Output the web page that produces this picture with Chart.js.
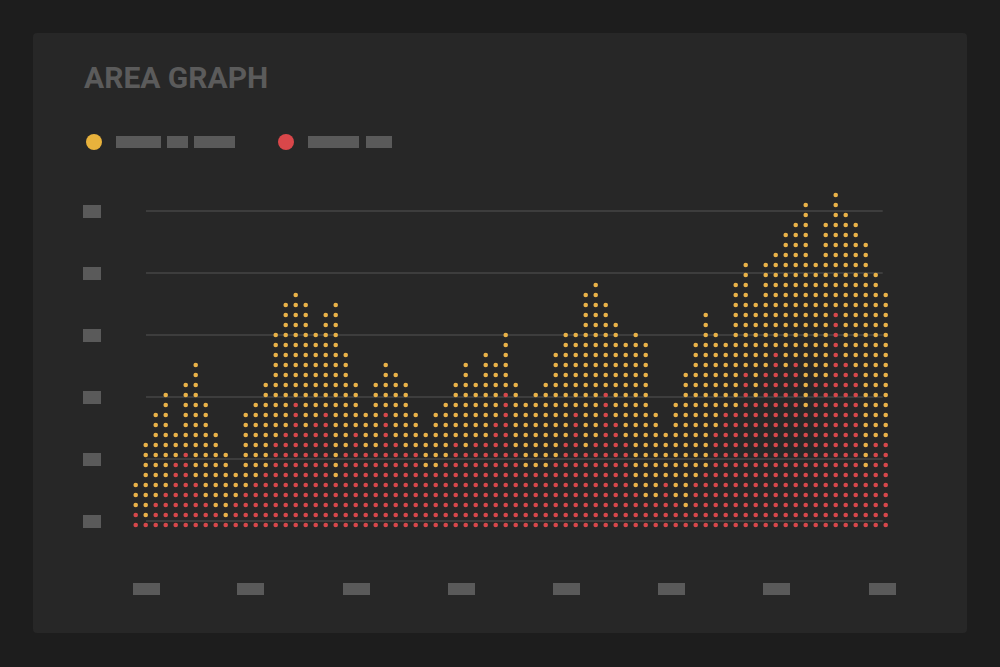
<!DOCTYPE html>
<html>
<head>
<meta charset="utf-8">
<script src="https://cdn.jsdelivr.net/npm/chart.js@4"></script>
<style>
  html, body { margin: 0; padding: 0; width: 1000px; height: 667px; overflow: hidden; background: #1d1d1d; font-family: Roboto, "DejaVu Sans", sans-serif; }
  .panel { position: absolute; left: 33px; top: 33px; width: 934px; height: 600px; background: #272727; border-radius: 4px; }
  .title { position: absolute; left: 84px; top: 63px; font-size: 30px; line-height: 30px; font-weight: 700; color: #5b5b5b; white-space: nowrap; }
  .dot { position: absolute; width: 16px; height: 16px; border-radius: 50%; top: 134px; }
  .bar { position: absolute; height: 12px; top: 136px; background: #5a5a5a; }
  #chart { position: absolute; left: 0; top: 0; }
</style>
</head>
<body>
<div class="panel"></div>
<div class="title">AREA GRAPH</div>
<div class="dot" style="left:86px;background:#e8b23c"></div>
<div class="bar" style="left:116px;width:45px"></div>
<div class="bar" style="left:167px;width:21px"></div>
<div class="bar" style="left:194px;width:41px"></div>
<div class="dot" style="left:278px;background:#d9474a"></div>
<div class="bar" style="left:308px;width:51px"></div>
<div class="bar" style="left:366px;width:26px"></div>
<canvas id="chart" width="1000" height="667"></canvas>
<script>
// dots per column (yellow tops) and red part from the bottom
const totals = [5, 9, 12, 14, 10, 15, 17, 13, 10, 8,
  6, 12, 13, 15, 20, 23, 24, 23, 20, 22,
  23, 18, 15, 12, 15, 17, 16, 15, 12, 10,
  12, 13, 15, 17, 15, 18, 17, 20, 15, 13,
  14, 15, 18, 20, 20, 24, 25, 23, 21, 19,
  20, 19, 12, 10, 13, 16, 19, 22, 20, 19,
  25, 27, 23, 27, 28, 30, 31, 33, 27, 31,
  34, 32, 31, 29, 26, 24];
const reds = [2, 1, 3, 4, 7, 8, 5, 3, 2, 1,
  3, 4, 5, 6, 9, 10, 13, 10, 11, 12,
  5, 8, 10, 8, 8, 12, 9, 8, 8, 6,
  6, 7, 9, 8, 9, 9, 11, 14, 8, 6,
  6, 6, 7, 9, 12, 8, 9, 14, 11, 9,
  4, 3, 3, 5, 3, 2, 5, 6, 10, 12,
  12, 16, 13, 16, 18, 16, 17, 12, 15, 15,
  22, 17, 16, 6, 9, 9];
const yTicks = [0.4, 6.6, 12.8, 19, 25.2, 31.4];
const xTicks = [1.03, 11.5, 22.1, 32.6, 43.1, 53.6, 64.1, 74.7];

const redPts = [];
const yellowPts = [];
totals.forEach((t, i) => {
  for (let k = 0; k < t; k++) {
    if (k < reds[i]) redPts.push({ x: i, y: k });
    else yellowPts.push({ x: i, y: k });
  }
});

// grid lines run between first and last x tick, boxes stand in for labels
const axisDeco = {
  id: 'axisDeco',
  beforeDatasetsDraw(chart) {
    const ctx = chart.ctx;
    const xs = chart.scales.x, ys = chart.scales.y;
    const x0 = xs.getPixelForValue(xTicks[0]);
    const x1 = xs.getPixelForValue(xTicks[xTicks.length - 1]);
    ctx.save();
    ctx.strokeStyle = '#464646';
    ctx.lineWidth = 1.5;
    yTicks.forEach(v => {
      const py = ys.getPixelForValue(v);
      ctx.beginPath();
      ctx.moveTo(x0, py);
      ctx.lineTo(x1, py);
      ctx.stroke();
    });
    ctx.fillStyle = '#5a5a5a';
    yTicks.forEach(v => {
      const py = ys.getPixelForValue(v);
      ctx.fillRect(83, Math.round(py - 6.5), 18, 13);
    });
    xTicks.forEach(v => {
      const px = xs.getPixelForValue(v);
      ctx.fillRect(Math.round(px - 13.5), 583, 27, 12);
    });
    ctx.restore();
  }
};

const ctx = document.getElementById('chart').getContext('2d');
new Chart(ctx, {
  type: 'scatter',
  data: {
    datasets: [
      { data: redPts, backgroundColor: '#d5474b', pointRadius: 2.3, borderWidth: 0 },
      { data: yellowPts, backgroundColor: '#e9b248', pointRadius: 2.3, borderWidth: 0 }
    ]
  },
  options: {
    responsive: false,
    animation: false,
    layout: { padding: { left: 130.7, right: 109.3, top: 190, bottom: 137 } },
    plugins: { legend: { display: false }, tooltip: { enabled: false } },
    scales: {
      x: { type: 'linear', min: -0.5, max: 75.5, display: false },
      y: { type: 'linear', min: -0.5, max: 33.5, display: false }
    }
  },
  plugins: [axisDeco]
});
</script>
</body>
</html>
